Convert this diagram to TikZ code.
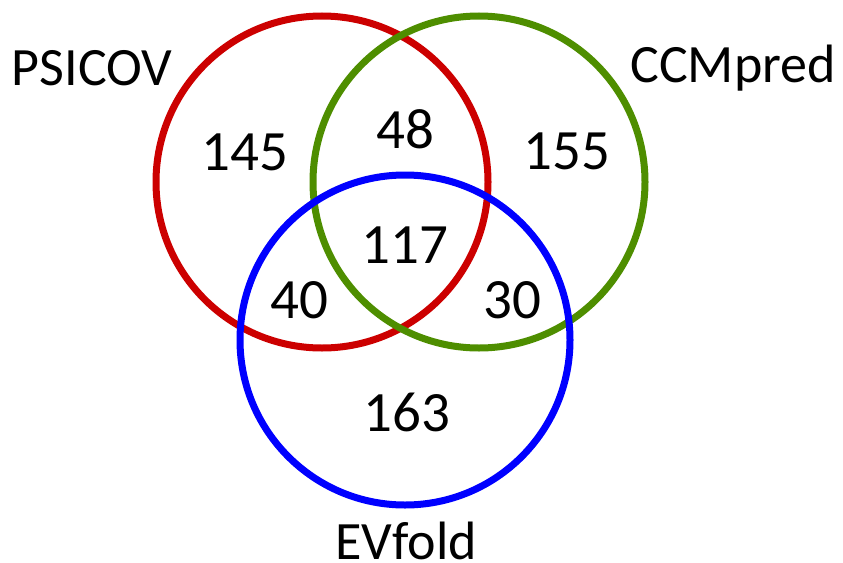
\documentclass[tikz,border=0pt]{standalone}
\usepackage{fontspec}
\setmainfont{Carlito}
\definecolor{vred}{RGB}{204,0,0}
\definecolor{vgreen}{RGB}{78,142,0}
\definecolor{vblue}{RGB}{0,0,255}
\begin{document}
\begin{tikzpicture}[x=1pt,y=-1pt,
  ring/.style={line width=7pt},
  setlabel/.style={font=\fontsize{54}{54}\selectfont, inner sep=0pt, anchor=center},
  count/.style={font=\fontsize{57}{57}\selectfont, inner sep=0pt, anchor=center}]
\useasboundingbox (0,0) rectangle (843,562);
% three overlapping sets
\draw[ring, vred]   (322,182) circle[radius=166];
\draw[ring, vgreen] (479,182) circle[radius=166];
\draw[ring, vblue]  (405,340) circle[radius=165];
% set names
\node[setlabel] (psicov) at (92,68) {PSICOV};
\node[setlabel] (ccmpred) at (733,68) {CCMpred};
\node[setlabel] (evfold) at (406,541) {EVfold};
% region counts
\node[count] (n145) at (245,152) {145};
\node[count] (n48) at (405,129) {48};
\node[count] (n155) at (567,151) {155};
\node[count] (n117) at (405,245) {117};
\node[count] (n40) at (299,300) {40};
\node[count] (n30) at (512,300) {30};
\node[count] (n163) at (407,412) {163};
\end{tikzpicture}
\end{document}
